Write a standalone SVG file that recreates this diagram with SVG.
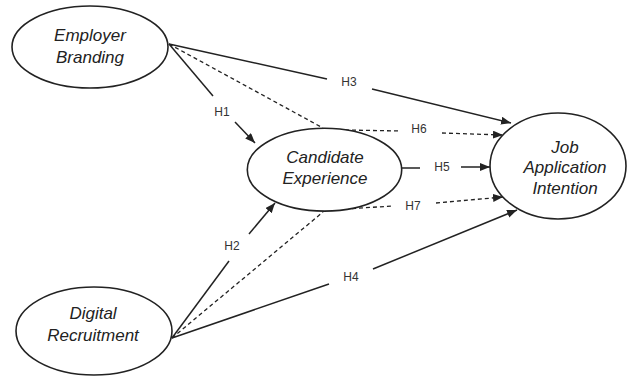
<svg xmlns="http://www.w3.org/2000/svg" width="627" height="378" viewBox="0 0 627 378">
<style>
.node{fill:#fff;stroke:#222;stroke-width:1.6}
.nt{font-family:"Liberation Sans",Arial,sans-serif;font-style:italic;font-size:17px;fill:#222;text-anchor:middle}
.lbl{font-family:"Liberation Sans",Arial,sans-serif;font-size:12px;fill:#333;text-anchor:middle;dominant-baseline:central}
.s{fill:none;stroke:#222;stroke-width:1.5}
.d{fill:none;stroke:#222;stroke-width:1.3;stroke-dasharray:4 3}
</style>
<defs>
<marker id="ah" markerUnits="userSpaceOnUse" markerWidth="11" markerHeight="9" refX="10" refY="4" orient="auto">
<path d="M0,0 L10,4 L0,8 z" fill="#222"/>
</marker>
</defs>
<rect width="627" height="378" fill="#fff"/>
<g id="connectors">
<!-- H1 -->
<line class="s" x1="169" y1="44" x2="213" y2="96"/>
<line class="s" x1="235" y1="122" x2="255" y2="143" marker-end="url(#ah)"/>
<!-- H2 -->
<line class="s" x1="172" y1="338" x2="229" y2="261"/>
<line class="s" x1="249" y1="234" x2="275" y2="203" marker-end="url(#ah)"/>
<!-- H3 -->
<line class="s" x1="169" y1="44" x2="327" y2="79"/>
<line class="s" x1="372" y1="89" x2="511" y2="123" marker-end="url(#ah)"/>
<!-- H4 -->
<line class="s" x1="172" y1="338" x2="329" y2="284"/>
<line class="s" x1="373" y1="269" x2="517" y2="210" marker-end="url(#ah)"/>
<!-- H5 -->
<line class="s" x1="402" y1="168" x2="420" y2="168"/>
<line class="s" x1="461" y1="167" x2="490" y2="167" marker-end="url(#ah)"/>
<!-- H6 -->
<line class="d" x1="169" y1="44" x2="323" y2="128"/>
<line class="d" x1="345" y1="130" x2="400" y2="131"/>
<line class="d" x1="442" y1="133" x2="503" y2="135" marker-end="url(#ah)"/>
<!-- H7 -->
<line class="d" x1="172" y1="338" x2="323" y2="212"/>
<line class="d" x1="345" y1="209" x2="393" y2="206"/>
<line class="d" x1="436" y1="203" x2="503" y2="197" marker-end="url(#ah)"/>
<text class="lbl" x="222" y="112">H1</text>
<text class="lbl" x="232" y="246">H2</text>
<text class="lbl" x="349" y="82">H3</text>
<text class="lbl" x="351" y="277">H4</text>
<text class="lbl" x="442" y="167">H5</text>
<text class="lbl" x="419" y="129">H6</text>
<text class="lbl" x="413" y="206">H7</text>
</g>
<g id="employer-branding">
<ellipse class="node" cx="90" cy="47" rx="78" ry="41"/>
<text class="nt" x="90" y="41">Employer</text>
<text class="nt" x="90" y="63">Branding</text>
</g>
<g id="digital-recruitment">
<ellipse class="node" cx="94" cy="331" rx="78" ry="44"/>
<text class="nt" x="93" y="319">Digital</text>
<text class="nt" x="93" y="341">Recruitment</text>
</g>
<g id="candidate-experience">
<ellipse class="node" cx="324.5" cy="169.7" rx="77.2" ry="41.4"/>
<text class="nt" x="325" y="163">Candidate</text>
<text class="nt" x="325" y="184">Experience</text>
</g>
<g id="job-application-intention">
<ellipse class="node" cx="558" cy="166" rx="68" ry="53"/>
<text class="nt" x="565" y="153">Job</text>
<text class="nt" x="565" y="173">Application</text>
<text class="nt" x="565" y="194">Intention</text>
</g>
</svg>
